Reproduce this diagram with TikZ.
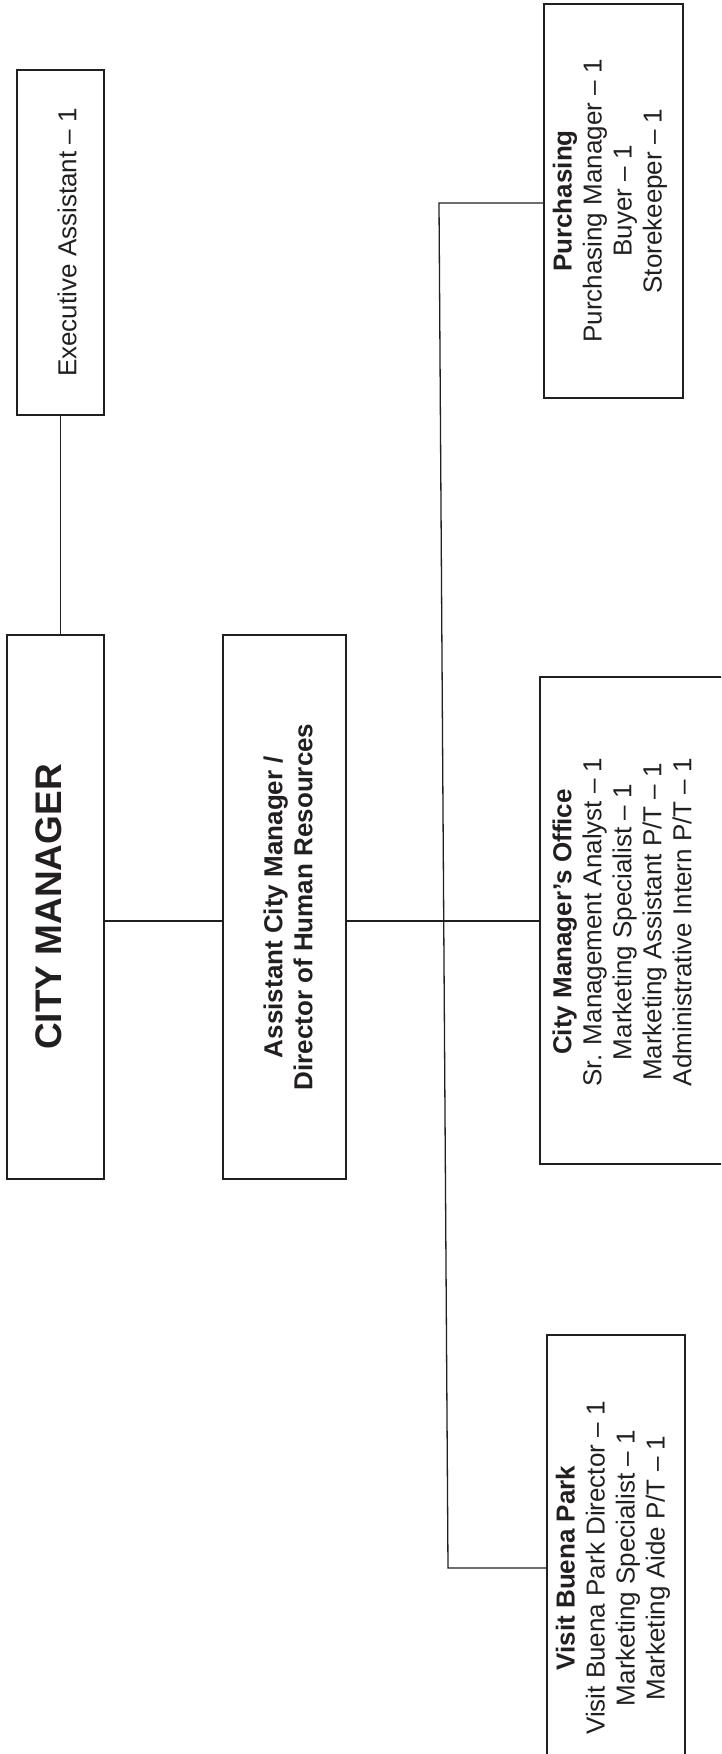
\documentclass[tikz,border=0pt]{standalone}
\usepackage{fontspec}
\setmainfont{Liberation Sans}
\definecolor{ink}{HTML}{231F20}
\begin{document}
\begin{tikzpicture}[x=1pt,y=-1pt,
  box/.style={draw=ink,line width=1.6pt,rectangle,inner sep=0pt},
  conn/.style={draw=ink,line width=1.3pt},
  txt/.style={rotate=90,align=center,inner sep=0pt,text=ink,font=\fontsize{26}{30}\selectfont},
  btxt/.style={txt,font=\bfseries\fontsize{26}{30}\selectfont}]
\clip (0,0) rectangle (721,1754);
\fill[white] (0,0) rectangle (721,1754);
% boxes
\node[box,minimum width=87pt,minimum height=345pt] (exec) at (60.5,242.5) {};
\node[box,minimum width=97pt,minimum height=544pt] (cm) at (55.5,907) {};
\node[box,minimum width=123pt,minimum height=544pt] (acm) at (284.5,907) {};
\node[box,minimum width=139pt,minimum height=394pt] (purch) at (613.5,201) {};
\node[box,minimum width=220pt,minimum height=487pt] (cmo) at (650,920.5) {};
\node[box,minimum width=138pt,minimum height=476pt] (vbp) at (616,1573) {};
% texts
\node[txt] (execT) at (67,242.5) {Executive Assistant – 1};
\node[txt,font=\bfseries\fontsize{37}{40}\selectfont] (cmT) at (49,907) {CITY MANAGER};
\node[btxt] (acmT) at (288,907) {Assistant City Manager /\\Director of Human Resources};
\node[txt] (purchT) at (610,201) {\textbf{Purchasing}\\Purchasing Manager – 1\\Buyer – 1\\Storekeeper – 1};
\node[txt] (cmoT) at (622,922) {\textbf{City Manager’s Office}\\Sr. Management Analyst – 1\\Marketing Specialist – 1\\Marketing Assistant P/T – 1\\Administrative Intern P/T – 1};
\node[txt] (vbpT) at (613,1568) {\textbf{Visit Buena Park}\\Visit Buena Park Director – 1\\Marketing Specialist – 1\\Marketing Aide P/T – 1};
% connectors
\coordinate (hy) at (0,921);
\coordinate (ttop) at (439,203);
\coordinate (tbot) at (448,1568);
\draw[conn] (exec.south) -- (exec.south |- cm.north);
\draw[conn] (cm.east |- hy) -- (acm.west |- hy);
\draw[conn] (acm.east |- hy) -- (cmo.west |- hy);
\draw[conn] (purch.west |- ttop) -- (ttop) -- (tbot) -- (vbp.west |- tbot);
\end{tikzpicture}
\end{document}
